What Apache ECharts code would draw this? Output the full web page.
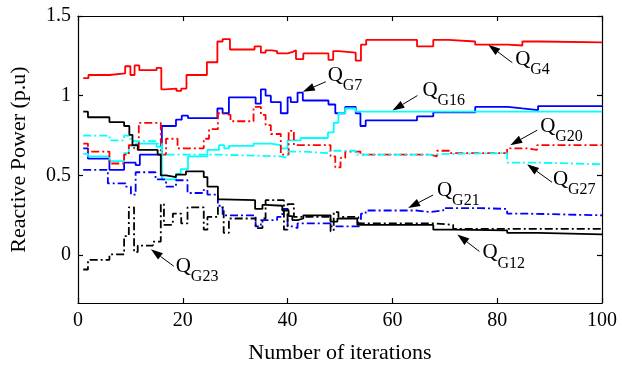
<!DOCTYPE html>
<html>
<head>
<meta charset="utf-8">
<script src="https://cdn.jsdelivr.net/npm/echarts@6/dist/echarts.min.js"></script>
<style>
  html, body { margin: 0; padding: 0; background: #fff; }
  #chart { width: 622px; height: 369px; }
</style>
</head>
<body>
<div id="chart"></div>
<script>
  // step changes: [iteration, value]
  const qg4 = [[1,1.11],[2,1.13],[6,1.14],[9,1.185],[10,1.13],[10.8,1.19],[11.7,1.16],[15,1.175],[15.9,1.04],[16.6,1.045],[18.8,1.03],[19.7,1.045],[20.7,1.13],[24.6,1.21],[26.6,1.34],[27.6,1.355],[29,1.29],[33.7,1.31],[34.9,1.27],[35.8,1.285],[37,1.28],[38,1.265],[40,1.275],[41,1.285],[41.6,1.23],[43,1.265],[47.8,1.225],[48.7,1.28],[49.7,1.27],[53,1.22],[54,1.32],[55,1.35],[64.7,1.31],[67.8,1.35],[70.7,1.34],[75.8,1.32],[82,1.315],[84.8,1.34],[88,1.335],[100,1.335]];
  const qg7 = [[1,0.67],[1.9,0.605],[6,0.535],[8.8,0.58],[11,0.565],[11.8,0.63],[16,0.81],[18.7,0.85],[19.8,0.875],[21,0.86],[26.6,0.92],[27.6,0.89],[28.8,0.99],[33.9,0.95],[34.9,1.04],[35.8,1.0],[36.8,0.96],[38.7,0.89],[40,0.99],[40.6,0.96],[41.9,1.02],[42.9,0.97],[47.8,0.945],[49.1,0.89],[51,0.93],[53,0.89],[53.9,0.81],[54.9,0.845],[64.7,0.87],[67.8,0.895],[75.8,0.93],[82,0.92],[84.8,0.91],[87.8,0.935],[100,0.93]];
  const qg16 = [[1,0.635],[1.9,0.62],[6,0.59],[8.8,0.64],[9.7,0.685],[11,0.70],[15,0.68],[16,0.475],[18.7,0.51],[19.6,0.54],[21,0.62],[24.7,0.66],[26.9,0.69],[27.9,0.67],[28.8,0.685],[33.5,0.70],[36.8,0.69],[38.7,0.67],[40,0.72],[42.5,0.735],[47.7,0.77],[48.8,0.83],[49.7,0.89],[51,0.92],[53,0.90],[100,0.90]];
  const qg20 = [[1,0.70],[1.9,0.65],[6,0.575],[8.8,0.63],[9.7,0.69],[10.7,0.67],[11.6,0.83],[15.8,0.63],[16.8,0.73],[19,0.67],[24,0.73],[25,0.79],[26.7,0.89],[27.6,0.88],[29.1,0.84],[33.5,0.93],[34.9,0.88],[35.8,0.815],[36.8,0.76],[38.7,0.63],[40.2,0.78],[41.2,0.69],[48.2,0.62],[49.1,0.55],[50.1,0.61],[51,0.65],[53.9,0.63],[67.2,0.62],[68.5,0.655],[71,0.64],[81.9,0.67],[85.7,0.66],[87.6,0.69],[100,0.685]];
  const qg27 = [[1,0.75],[6,0.72],[8.8,0.75],[10,0.715],[15,0.70],[16,0.63],[27,0.62],[38.7,0.61],[40,0.65],[42.5,0.64],[48,0.655],[53,0.63],[67.5,0.635],[70,0.64],[81.9,0.58],[88.2,0.57],[100,0.57]];
  const qg21 = [[1,0.535],[5.7,0.45],[9.1,0.43],[10.1,0.38],[11,0.52],[14.8,0.475],[16.8,0.43],[18.7,0.47],[20.9,0.39],[24,0.41],[24.7,0.38],[26.7,0.31],[27.6,0.25],[33.9,0.18],[34.9,0.22],[38,0.24],[39,0.29],[40,0.18],[40.9,0.17],[41.9,0.20],[48.2,0.18],[54,0.26],[54.9,0.28],[64.7,0.27],[67.2,0.28],[69.7,0.295],[76.8,0.29],[81.9,0.26],[86.3,0.25],[100,0.25]];
  const qg12 = [[1,0.90],[1.9,0.865],[6,0.835],[8.8,0.81],[9.8,0.755],[10.4,0.69],[11.4,0.66],[15.2,0.63],[15.8,0.50],[16.8,0.49],[18.7,0.505],[20.6,0.525],[24,0.49],[24.7,0.43],[26.7,0.35],[27.6,0.345],[33.8,0.29],[35.2,0.315],[35.8,0.31],[39,0.28],[40.2,0.245],[40.9,0.22],[41.9,0.23],[43,0.25],[48.2,0.21],[49.5,0.23],[53.3,0.19],[67.8,0.16],[71.6,0.155],[81.9,0.14],[87.8,0.13],[100,0.13]];
  const qg23 = [[1,-0.09],[1.9,-0.03],[6,0.005],[8.8,0.12],[9.7,0.30],[10.7,0.02],[11.4,0.06],[14.3,0.085],[15.8,0.32],[16.4,0.19],[18.1,0.26],[19.7,0.20],[20.9,0.30],[24,0.16],[24.7,0.24],[26.7,0.30],[27.8,0.14],[28.8,0.23],[33.9,0.17],[35.2,0.23],[35.8,0.345],[39.3,0.16],[40,0.32],[41.2,0.24],[48.2,0.15],[48.8,0.27],[49.7,0.24],[53.5,0.20],[67.8,0.19],[71.6,0.165],[100,0.165]];

  const yTicks = [0, 0.5, 1, 1.5];

  const serif = "Liberation Serif";
  const dashDot = [8, 3, 2, 3];

  const seriesList = [
    { data: qg4, color: "#ff0000", type: "solid" },
    { data: qg7, color: "#0000ff", type: "solid" },
    { data: qg16, color: "#00ffff", type: "solid" },
    { data: qg20, color: "#ff0000", type: dashDot },
    { data: qg27, color: "#00ffff", type: dashDot },
    { data: qg21, color: "#0000ff", type: dashDot },
    { data: qg12, color: "#000000", type: "solid" },
    { data: qg23, color: "#000000", type: dashDot },
  ];

  // annotation labels: name, arrow tip (data coords), tail offset and text offset (px)
  const annotNames = ["G4", "G7", "G16", "G20", "G27", "G21", "G12", "G23"];
  const annotTips = [[78.3,1.32],[42.9,1.025],[60,0.907],[82.5,0.69],[85.7,0.57],[63,0.296],[72.4,0.13],[13.9,0.037]];
  const tailOffsets = [[24,18],[23,-10],[25,-15],[27,-15],[25,18],[25,-13],[22,17],[23,17]];
  const textOffsets = [[3,-10],[2,-13],[5,-12],[3,-10],[1,-9],[4,-11],[3,-5],[2,-6]];

  const chart = echarts.init(document.getElementById("chart"));

  const axisLineStyle = { color: "#000", width: 1.2 };

  chart.setOption({
    animation: false,
    grid: { left: 77, right: 20, top: 16, bottom: 62 },
    xAxis: [
      {
        type: "value",
        min: 0,
        max: 100,
        interval: 20,
        name: "Number of iterations",
        nameLocation: "middle",
        nameGap: 39,
        nameTextStyle: { fontFamily: serif, fontSize: 22, color: "#000" },
        axisLine: { show: true, onZero: false, lineStyle: axisLineStyle },
        axisTick: { inside: true, length: 5, lineStyle: axisLineStyle },
        axisLabel: { fontFamily: serif, fontSize: 20, color: "#000", margin: 8 },
        splitLine: { show: false },
      },
      {
        type: "value",
        position: "top",
        min: 0,
        max: 100,
        interval: 20,
        axisLine: { show: true, onZero: false, lineStyle: axisLineStyle },
        axisTick: { inside: true, length: 5, lineStyle: axisLineStyle },
        axisLabel: { show: false },
        splitLine: { show: false },
      },
    ],
    yAxis: [
      {
        type: "value",
        min: -0.3,
        max: 1.5,
        name: "Reactive Power (p.u)",
        nameLocation: "middle",
        nameGap: 48,
        nameTextStyle: { fontFamily: serif, fontSize: 22, color: "#000" },
        axisLine: { show: true, onZero: false, lineStyle: axisLineStyle },
        axisTick: { inside: true, length: 5, lineStyle: axisLineStyle, customValues: yTicks },
        axisLabel: { fontFamily: serif, fontSize: 20, color: "#000", margin: 7, customValues: yTicks },
        splitLine: { show: false },
      },
      {
        type: "value",
        position: "right",
        min: -0.3,
        max: 1.5,
        axisLine: { show: true, onZero: false, lineStyle: axisLineStyle },
        axisTick: { inside: true, length: 5, lineStyle: axisLineStyle, customValues: yTicks },
        axisLabel: { show: false, customValues: yTicks },
        splitLine: { show: false },
      },
    ],
    series: seriesList.map((s) => ({
      type: "line",
      step: "end",
      data: s.data,
      showSymbol: false,
      symbol: "none",
      lineStyle: { color: s.color, width: 1.8, type: s.type },
      itemStyle: { color: s.color },
    })),
  });

  // arrows and Q labels
  const elements = [];
  annotNames.forEach((name, i) => {
    const tip = chart.convertToPixel({ gridIndex: 0 }, annotTips[i]);
    const tail = [tip[0] + tailOffsets[i][0], tip[1] + tailOffsets[i][1]];
    const dx = tip[0] - tail[0];
    const dy = tip[1] - tail[1];
    const len = Math.sqrt(dx * dx + dy * dy);
    const ux = dx / len;
    const uy = dy / len;
    const headLen = 12;
    const headW = 4;
    const bx = tip[0] - ux * headLen;
    const by = tip[1] - uy * headLen;
    elements.push({
      type: "line",
      shape: { x1: tail[0], y1: tail[1], x2: bx, y2: by },
      style: { stroke: "#000", lineWidth: 1 },
    });
    elements.push({
      type: "polygon",
      shape: {
        points: [
          [tip[0], tip[1]],
          [bx - uy * headW, by + ux * headW],
          [bx + uy * headW, by - ux * headW],
        ],
      },
      style: { fill: "#000" },
    });
    const tx = tail[0] + textOffsets[i][0];
    const ty = tail[1] + textOffsets[i][1];
    elements.push({
      type: "text",
      x: tx,
      y: ty - 4,
      style: { text: "Q", font: "21px " + serif, fill: "#000", textVerticalAlign: "top" },
    });
    elements.push({
      type: "text",
      x: tx + 15,
      y: ty + 9,
      style: { text: name, font: "16px " + serif, fill: "#000", textVerticalAlign: "top" },
    });
  });
  chart.setOption({ graphic: { elements: elements } });
</script>
</body>
</html>
